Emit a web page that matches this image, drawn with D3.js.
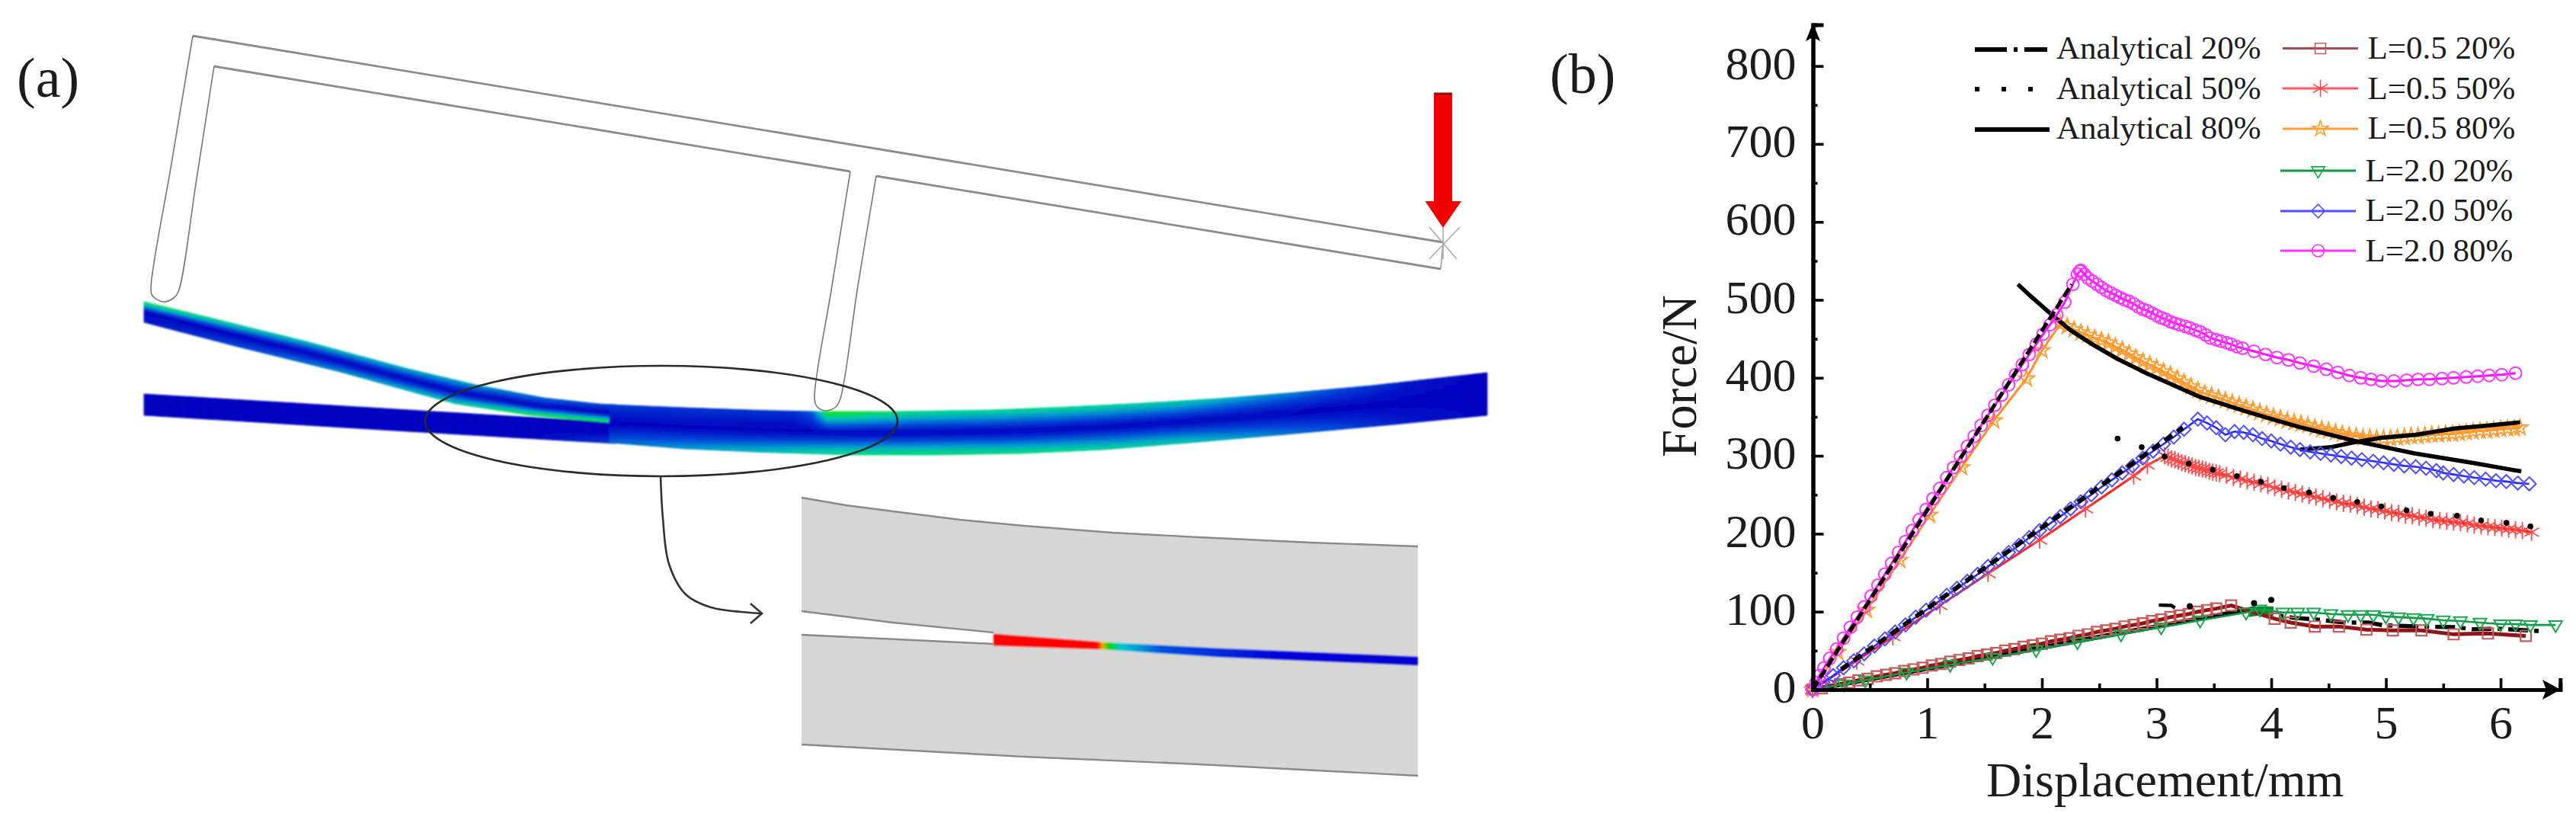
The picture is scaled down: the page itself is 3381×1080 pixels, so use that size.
<!DOCTYPE html>
<html><head><meta charset="utf-8">
<script src="https://cdn.jsdelivr.net/npm/d3@7"></script>
<style>html,body{margin:0;background:#fff}svg{display:block}text{font-family:"Liberation Serif",serif;fill:#1c1c1c}</style>
</head><body><svg id="c" width="3381" height="1080"></svg>
<script>
// ---------- chart (b) values ----------
const xTicks=[0,1,2,3,4,5,6], xMinor=[0.5,1.5,2.5,3.5,4.5,5.5];
const yTicks=[0,100,200,300,400,500,600,700,800], yMinor=[50,150,250,350,450,550,650,750];
const xTitle="Displacement/mm", yTitle="Force/N";

const L05_20_x=[0,.08,.16,.24,.32,.40,.48,.56,.64,.72,.80,.88,.96,1.04,1.12,1.20,1.28,1.36,1.44,1.52,1.60,1.68,1.76,1.84,1.92,2.00,2.08,2.16,2.24,2.32,2.40,2.48,2.56,2.64,2.72,2.80,2.88,2.96,3.04,3.12,3.20,3.28,3.36,3.44,3.52,3.65,4.03,4.17,4.38,4.59,4.83,5.06,5.31,5.59,5.89,6.22];
const L05_20_y=[0,2,5,7,9,12,14,17,19,21,24,26,28,31,33,36,38,40,43,45,47,50,52,55,57,59,62,64,66,69,71,74,76,78,81,83,85,88,90,93,95,97,100,102,104,108,91,86,81,81,77,76,76,71,72,69];
const L05_50_x=[0,.385,.70,1.11,1.53,1.98,2.38,2.80,2.92,3.07,3.10,3.13,3.16,3.19,3.22,3.25,3.28,3.31,3.34,3.37,3.40,3.43,3.46,3.49,3.52,3.55,3.61,3.67,3.73,3.79,3.85,3.91,3.97,4.03,4.09,4.15,4.21,4.27,4.33,4.39,4.45,4.51,4.57,4.63,4.69,4.75,4.81,4.87,4.93,4.99,5.05,5.11,5.17,5.23,5.29,5.35,5.41,5.47,5.53,5.59,5.65,5.71,5.77,5.83,5.89,5.95,6.01,6.07,6.13,6.19,6.27];
const L05_50_y=[0,37,68,108,149,192,232,274,288,300,298,296,295,293,291,290,288,287,285,284,283,282,280,279,278,277,275,272,270,268,266,264,262,259,257,255,253,251,249,247,245,243,241,239,238,236,234,232,231,229,227,226,224,223,221,220,218,217,216,215,214,213,211,210,209,208,207,206,205,204,202];
const L05_80_x=[0,.22,.47,.76,1.02,1.30,1.58,1.865,2.0,2.16,2.22,2.28,2.34,2.40,2.46,2.52,2.58,2.64,2.70,2.76,2.82,2.88,2.94,3.00,3.06,3.12,3.18,3.24,3.30,3.36,3.42,3.48,3.54,3.60,3.66,3.72,3.78,3.84,3.90,3.96,4.02,4.08,4.14,4.20,4.26,4.32,4.38,4.44,4.50,4.56,4.62,4.68,4.74,4.80,4.86,4.92,4.98,5.04,5.10,5.16,5.22,5.28,5.34,5.40,5.46,5.52,5.58,5.64,5.70,5.76,5.82,5.88,5.94,6.00,6.06,6.12,6.17];
const L05_80_y=[0,48,102,166,224,285,345,399,435,469,466,462,458,455,451,448,445,440,436,431,426,421,417,413,408,404,399,394,389,384,380,377,374,371,368,365,362,359,356,353,350,348,345,343,341,339,336,334,332,330,328,326,325,323,323,322,322,322,323,324,325,325,326,327,327,328,328,329,330,331,332,332,333,334,335,335,336];
const L20_20_x=[0,.275,.46,.82,1.2,1.57,1.95,2.31,2.69,3.04,3.38,3.78,3.9,4.10,4.23,4.37,4.52,4.67,4.78,4.89,5.00,5.11,5.24,5.36,5.50,5.65,5.82,6.00,6.13,6.26,6.48];
const L20_20_y=[0,7,12,22,32,41,51,61,71,80,89,99,103,99,99,99,97,96,96,96,94,93,92,91,89,88,86,84,84,83,83];
const L20_50_x=[0,.09,.18,.27,.36,.45,.54,.63,.72,.81,.90,.99,1.08,1.17,1.26,1.35,1.44,1.53,1.62,1.71,1.80,1.89,1.98,2.07,2.16,2.25,2.34,2.43,2.52,2.61,2.70,2.79,2.88,2.97,3.06,3.15,3.24,3.36,3.44,3.52,3.60,3.68,3.76,3.84,3.92,4.00,4.08,4.17,4.25,4.34,4.43,4.52,4.61,4.70,4.79,4.89,4.98,5.07,5.16,5.26,5.35,5.44,5.50,5.59,5.68,5.77,5.87,5.96,6.05,6.15,6.25];
const L20_50_y=[0,9,18,28,37,46,56,65,74,83,93,102,111,121,130,139,148,158,167,176,185,195,204,213,222,232,241,250,260,269,278,287,297,306,315,324,334,347,342,336,327,331,330,327,322,319,315,311,308,305,303,301,299,297,295,293,291,289,287,286,284,281,278,276,274,272,270,268,267,265,264];
const L20_80_x=[0,.03,.06,.10,.15,.21,.27,.33,.39,.45,.51,.57,.63,.69,.75,.81,.87,.93,.99,1.05,1.11,1.17,1.23,1.29,1.35,1.41,1.47,1.53,1.59,1.65,1.71,1.77,1.83,1.89,1.95,2.01,2.07,2.13,2.20,2.27,2.31,2.33,2.34,2.37,2.40,2.44,2.48,2.52,2.56,2.60,2.64,2.68,2.72,2.76,2.80,2.84,2.88,2.92,2.96,3.00,3.04,3.08,3.12,3.16,3.20,3.25,3.29,3.34,3.38,3.43,3.47,3.52,3.56,3.61,3.65,3.70,3.75,3.85,3.95,4.05,4.15,4.25,4.37,4.48,4.58,4.68,4.78,4.87,4.96,5.07,5.18,5.28,5.38,5.49,5.59,5.70,5.80,5.90,6.01,6.13];
const L20_80_y=[0,9,18,28,40,52,66,80,93,106,120,134,148,162,176,190,204,218,231,245,258,272,285,299,312,325,339,352,365,378,391,404,417,430,443,456,468,481,497,520,533,537,538,533,528,524,520,516,512,509,506,503,500,498,495,491,488,486,483,480,477,475,472,470,468,466,464,461,459,455,451,449,447,445,443,440,438,434,430,426,423,419,415,411,407,403,400,398,396,396,397,398,398,399,400,401,402,403,404,406];

const an80rise_x=[0,2.26], an80rise_y=[0,520];
const an80fall_x=[1.79,1.90,2.07,2.25,2.44,2.65,2.91,3.14,3.37,3.78,4.03,4.27,4.76,5.25,5.75,6.18];
const an80fall_y=[520,505,483,461,443,425,406,391,376,357,346,336,318,303,291,280];
const an80up_x=[4.25,4.52,4.71,4.96,5.26,5.6,5.9,6.17], an80up_y=[308,311,317,323,327,335,339,343];
const an50rise_x=[.25,3.23], an50rise_y=[26,336];
const an50dots_x=[2.66,2.87,3.07,3.28,3.49,3.70,3.91,4.11,4.33,4.54,4.75,4.96,5.18,5.39,5.62,5.83,6.05,6.26];
const an50dots_y=[322,311,299,290,282,274,266.6,258.5,253,246,240.7,235,230,225.5,223,217,214,209.4];
const an20rise_x=[0,3.85], an20rise_y=[0,104];
const an20fall_x=[3.85,4.03,4.2,4.39,4.65,4.85,4.98,5.31,5.62,5.75,6.0,6.36], an20fall_y=[104,96,92,90,86,86,82.5,81,80,77.5,78,75];
const an20stray_x=[3.02,3.13,3.16], an20stray_y=[108.5,108,105];
const an20spots_x=[3.29,3.85,4.0], an20spots_y=[107,111,115];
const peakBlob_x=[3.80,3.90,4.02], peakBlob_y=[99,101,101];

const legendAnalytical=["Analytical 20%","Analytical 50%","Analytical 80%"];
const legendFE=["L=0.5 20%","L=0.5 50%","L=0.5 80%","L=2.0 20%","L=2.0 50%","L=2.0 80%"];

// ---------- helpers ----------
const zip=(a,b)=>d3.zip(a,b);
const svg=d3.select("#c");
const defs=svg.append("defs");
defs.append("filter").attr("id","soft").attr("x","-5%").attr("y","-20%").attr("width","110%").attr("height","140%")
  .append("feGaussianBlur").attr("stdDeviation",1.1);
defs.append("filter").attr("id","soft2").attr("filterUnits","userSpaceOnUse").attr("x",0).attr("y",0).attr("width",3381).attr("height",1080)
  .append("feGaussianBlur").attr("stdDeviation",0.7);

// ---------- panel (a), an illustration ----------
const A=svg.append("g");
const straight=d3.line();
const pl=(pts)=>A.append("path").attr("d",straight(pts)).attr("fill","none");
const thin=(p,c,w)=>pl(p).attr("stroke",c).attr("stroke-width",w);
[[[253,47],[1894,318]],[[281,87],[1116,225]],[[1150,231],[1891,353]]].forEach(p=>thin(p,"#8c8c8c",2.8).attr("filter","url(#soft2)"));
thin([[1894,318],[1891,353]],"#999",1.5);
const smooth=d3.line().curve(d3.curveCatmullRom);
A.append("path").attr("d",smooth([[253,47],[225,215],[198,379],[200,388],[214,396],[228,391],[234,383],[258,235],[281,87]])).attr("fill","none").attr("stroke","#777").attr("stroke-width",1.6);
A.append("path").attr("d",smooth([[1116,225],[1092,375],[1069,523],[1072,533],[1083,539],[1097,534],[1103,523],[1126,375],[1150,231]])).attr("fill","none").attr("stroke","#777").attr("stroke-width",1.6);

const jet=d3.scaleLinear().domain([0,.3,.55,.75,1]).range(["#0000c0","#0048d8","#00a0cc","#00cfa0","#10e020"]).clamp(true);
const piece=(pts)=>d3.scaleLinear().domain(pts.map(p=>p[0])).range(pts.map(p=>p[1])).clamp(true);
function beam(g,x0,x1,top,bot,eTop,eBot){
  const T=piece(top),B=piece(bot),ET=piece(eTop),EB=piece(eBot);
  const rows=14,step=4,cells=[];
  for(let x=x0;x<x1;x+=step)for(let r=0;r<rows;r++){cells.push([x,r]);}
  g.selectAll(null).data(cells).join("path")
   .attr("d",([x,r])=>{const a=r/rows,b=(r+1)/rows,x2=x+step;
      const yy=(xx,t)=>T(xx)+(B(xx)-T(xx))*t;
      return straight([[x,yy(x,a)],[x2,yy(x2,a)],[x2,yy(x2,b)],[x,yy(x,b)]])+"Z";})
   .each(function([x,r]){const t=(r+.5)/rows,i=t<.5?ET(x)*Math.pow(1-2*t,1.05):EB(x)*Math.pow(2*t-1,1.05);
      const c=jet(i);d3.select(this).attr("fill",c).attr("stroke",c).attr("stroke-width",.8);});
}
const bg=A.append("g").attr("filter","url(#soft)");
beam(bg.append("g"),189,806,[[189,517],[786,553],[806,554]],[[189,545],[500,564],[806,582]],[[189,0],[806,0]],[[189,0],[700,.02],[806,.25]]);
beam(bg.append("g"),189,806,[[189,396],[268,415],[402,448],[536,484],[625,505],[714,522],[786,530],[806,531]],[[189,423],[312,455],[446,488],[536,513],[598,530],[696,545],[806,555]],[[189,1],[260,.9],[400,.7],[600,.62],[786,.3]],[[189,.1],[400,.45],[600,.75],[700,1],[806,1]]);
beam(bg.append("g"),800,1952,[[800,531],[900,535],[1000,538.5],[1071,540],[1178,540],[1300,538],[1400,534],[1500,529],[1600,523],[1700,515],[1800,506],[1952,489]],[[800,581],[900,589],[1000,593.5],[1116,597],[1230,597],[1344,595],[1450,590],[1574,580],[1700,569],[1830,557],[1952,545]],
 [[800,.25],[1040,.2],[1065,.4],[1085,1.1],[1130,1],[1200,.85],[1400,.82],[1550,.75],[1700,.45],[1850,.1],[1952,0]],
 [[800,.4],[900,.55],[1000,.68],[1100,.85],[1250,.88],[1400,.82],[1550,.72],[1700,.42],[1850,.1],[1952,0]]);

A.append("ellipse").attr("cx",868).attr("cy",552.5).attr("rx",310).attr("ry",72.5).attr("fill","none").attr("stroke","#2a2a2a").attr("stroke-width",2.6);
A.append("path").attr("d",smooth([[867,625],[870,680],[878,740],[900,780],[933,797],[1000,805]])).attr("fill","none").attr("stroke","#333").attr("stroke-width",2.6);
pl([[985,792],[1000,805],[985,818]]).attr("stroke","#333").attr("stroke-width",2.6);

// inset
const upTop=[[1052,653],[1110,663],[1172,671],[1260,682],[1344,690],[1460,699],[1574,705],[1720,712],[1861,717]];
const upBot=[[1052,802],[1172,817],[1304,830]];
const loTop=[[1052,833],[1304,845]];
const loBot=[[1052,977],[1344,993],[1574,1003],[1861,1018]];
const stripTop=[[1304,832],[1448,843],[1600,851],[1861,862]];
const stripBot=[[1304,847],[1448,852],[1600,862],[1861,873]];
const block=(pts)=>A.append("path").attr("d",straight(pts)+"Z").attr("fill","#d6d6d6");
block([...upTop,...stripTop.slice().reverse(),...upBot.slice().reverse()]);
block([...loTop,...stripBot,...loBot.slice().reverse()]);
const grad=defs.append("linearGradient").attr("id","strip").attr("gradientUnits","userSpaceOnUse").attr("x1",1304).attr("x2",1861).attr("y1",0).attr("y2",0);
[[1304,"#ff0000"],[1440,"#ff0000"],[1447,"#e8b000"],[1456,"#10d020"],[1472,"#00c8d0"],[1525,"#0050e0"],[1680,"#0000d8"],[1861,"#0000d0"]].forEach(s=>grad.append("stop").attr("offset",(s[0]-1304)/557).attr("stop-color",s[1]));
A.append("path").attr("d",straight([...stripTop,...stripBot.slice().reverse()])+"Z").attr("fill","url(#strip)").attr("filter","url(#soft)");
[upTop,upBot,loTop,loBot].forEach(p=>pl(p).attr("stroke","#8a8a8a").attr("stroke-width",2.4));

// load arrow
A.append("path").attr("d",straight([[1882,122],[1906,122],[1906,264],[1918,264],[1894,299],[1870.5,264],[1882,264]])+"Z").attr("fill","#f50000");
pl([[1882,123],[1906,123]]).attr("stroke","#8a1010").attr("stroke-width",3);
pl([[1876,298],[1912,340]]).attr("stroke","#aaa").attr("stroke-width",1.6);
pl([[1916,298],[1876,340]]).attr("stroke","#aaa").attr("stroke-width",1.6);
pl([[1894,298],[1894,340]]).attr("stroke","#aaa").attr("stroke-width",1.6);

svg.append("text").attr("x",22).attr("y",127).attr("font-size",74).text("(a)");
svg.append("text").attr("x",2034).attr("y",122).attr("font-size",74).text("(b)");

// ---------- panel (b) ----------
const x=d3.scaleLinear().domain([0,6.52]).range([2379,3360.3]);
const y=d3.scaleLinear().domain([0,853]).range([905,32.4]);
const line=d3.line().x(d=>x(d[0])).y(d=>y(d[1]));
const P=svg.append("g").attr("filter","url(#soft2)");

const blk=(xs,ys,w,dash)=>P.append("path").datum(zip(xs,ys)).attr("d",line).attr("fill","none").attr("stroke","#000").attr("stroke-width",w).attr("stroke-dasharray",dash||null);

const sym={
 square:d3.symbolSquare, asterisk:d3.symbolAsterisk, star:d3.symbolStar,
 triDown:{draw(c,s){const r=Math.sqrt(s)*.66;c.moveTo(-r,-r*.6);c.lineTo(r,-r*.6);c.lineTo(0,r*1.1);c.closePath();}},
 diamond:d3.symbolDiamond2, circle:d3.symbolCircle};
const series=[
 {name:legendFE[0],xs:L05_20_x,ys:L05_20_y,line:"#8f1515",mark:"#c85a5a",s:"square",size:190,lw:5,ms:2.2},
 {name:legendFE[1],xs:L05_50_x,ys:L05_50_y,line:"#ff2020",mark:"#ff4a4a",s:"asterisk",size:360,lw:3,ms:1.8},
 {name:legendFE[2],xs:L05_80_x,ys:L05_80_y,line:"#ff9020",mark:"#ff9c30",s:"star",size:130,lw:3,ms:2},
 {name:legendFE[3],xs:L20_20_x,ys:L20_20_y,line:"#0a9a40",mark:"#18a850",s:"triDown",size:170,lw:2.6,ms:2},
 {name:legendFE[4],xs:L20_50_x,ys:L20_50_y,line:"#2a2aff",mark:"#5050ff",s:"diamond",size:200,lw:2.6,ms:2},
 {name:legendFE[5],xs:L20_80_x,ys:L20_80_y,line:"#ff10ff",mark:"#ff30ff",s:"circle",size:200,lw:3,ms:2}];
const draw=(sr,g)=>{
  g.append("path").datum(zip(sr.xs,sr.ys)).attr("d",line).attr("fill","none").attr("stroke",sr.line).attr("stroke-width",sr.lw);
  g.selectAll(null).data(zip(sr.xs,sr.ys)).join("path").attr("d",d3.symbol(sym[sr.s],sr.size))
   .attr("transform",d=>`translate(${x(d[0])},${y(d[1])})`).attr("fill","none").attr("stroke",sr.mark).attr("stroke-width",sr.ms);
};
blk(an20rise_x,an20rise_y,6);
blk(an20fall_x,an20fall_y,5.5,"26 8 6 8");
P.append("path").datum(zip(peakBlob_x,peakBlob_y)).attr("d",line).attr("fill","none").attr("stroke","#0a8a30").attr("stroke-width",12);
draw(series[0],P.append("g"));
draw(series[3],P.append("g"));
draw(series[2],P.append("g"));
blk(an80fall_x,an80fall_y,5.5);
blk(an80up_x,an80up_y,5.5);
draw(series[1],P.append("g"));
draw(series[4],P.append("g"));
blk(an50rise_x,an50rise_y,6,"12 8");
P.selectAll(null).data(zip(an50dots_x,an50dots_y)).join("circle").attr("cx",d=>x(d[0])).attr("cy",d=>y(d[1])).attr("r",3.8).attr("fill","#000");
draw(series[5],P.append("g"));
blk(an80rise_x,an80rise_y,5,"13 5");
blk(an20stray_x,an20stray_y,4.5);
P.selectAll(null).data(zip(an20spots_x,an20spots_y)).join("circle").attr("cx",d=>x(d[0])).attr("cy",d=>y(d[1])).attr("r",4).attr("fill","#000");

// axes
const gx=svg.append("g").attr("transform","translate(0,905)");
const gy=svg.append("g").attr("transform","translate(2379.5,0)");
gx.call(d3.axisBottom(x).tickValues(xTicks).tickSize(-15).tickPadding(20).tickFormat(d3.format("d")));
gy.call(d3.axisLeft(y).tickValues(yTicks).tickSize(-14).tickPadding(22).tickFormat(d3.format("d")));
const gx2=svg.append("g").attr("transform","translate(0,905)").call(d3.axisBottom(x).tickValues(xMinor).tickSize(-8).tickFormat(""));
const gy2=svg.append("g").attr("transform","translate(2379.5,0)").call(d3.axisLeft(y).tickValues(yMinor).tickSize(-6).tickFormat(""));
[gx,gy,gx2,gy2].forEach(g=>{g.attr("font-family",null).attr("font-size",null);
  g.selectAll("text").attr("font-size",62).attr("fill","#1c1c1c");
  g.selectAll("line").attr("stroke","#000").attr("stroke-width",3.6);
  g.select(".domain").attr("stroke","#000").attr("stroke-width",5);});
gy.selectAll("text").attr("dy",".27em");
svg.append("path").attr("d",straight([[3361,905],[3337,892],[3342,905],[3337,918]])+"Z").attr("fill","#000");
svg.append("path").attr("d",straight([[2379.5,30],[2370,54],[2379.5,49],[2389,54]])+"Z").attr("fill","#000");
svg.append("text").attr("x",2607).attr("y",1045).attr("font-size",64).text(xTitle);
svg.append("text").attr("transform","translate(2226,600) rotate(-90)").attr("font-size",65).text(yTitle);

// legend
const lg=svg.append("g");
const anDash=["42 9 5 9 30","6 29",null], anY=[65,117,170], anBase=[77,130,182];
legendAnalytical.forEach((t,i)=>{
  lg.append("line").attr("x1",2592).attr("x2",2690).attr("y1",anY[i]).attr("y2",anY[i]).attr("stroke","#000").attr("stroke-width",6).attr("stroke-dasharray",anDash[i]);
  lg.append("text").attr("x",2699).attr("y",anBase[i]).attr("font-size",43).text(t);
});
const feY=[63.6,116,169,224,277,329], feBase=[77,130,182,237.5,290,343], feLine=["#b04a4a","#ff5a5a","#ff9c30","#0a9a40","#5050ff","#ff30ff"];
series.forEach((sr,i)=>{
  const dx=i<3?0:-3;
  lg.append("line").attr("x1",2996+dx).attr("x2",3095+dx).attr("y1",feY[i]).attr("y2",feY[i]).attr("stroke",feLine[i]).attr("stroke-width",3);
  lg.append("path").attr("d",d3.symbol(sym[sr.s],sr.size)).attr("transform",`translate(${3045.6+dx},${feY[i]})`).attr("fill","none").attr("stroke",sr.mark).attr("stroke-width",1.6);
  lg.append("text").attr("x",3107.5+dx).attr("y",feBase[i]).attr("font-size",43).text(sr.name);
});
</script></body></html>
